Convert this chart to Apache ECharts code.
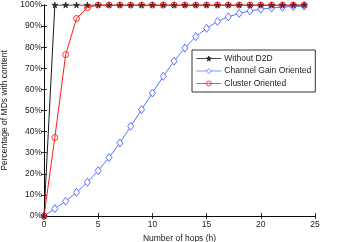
<!DOCTYPE html>
<html><head><meta charset="utf-8">
<script src="https://cdn.jsdelivr.net/npm/echarts@6/dist/echarts.min.js"></script>
<style>html,body{margin:0;padding:0;background:#fff}#c{width:348px;height:242px}</style>
</head><body><div id="c"></div>
<script>
const hops = [0,1,2,3,4,5,6,7,8,9,10,11,12,13,14,15,16,17,18,19,20,21,22,23,24];
const withoutD2D = [0,100,100,100,100,100,100,100,100,100,100,100,100,100,100,100,100,100,100,100,100,100,100,100,100];
const channelGain = [0,3.5,7,11.2,16,21.5,27.7,34.6,42.5,50.4,58.3,66.2,73.4,79.6,85,88.9,92.2,94.4,96,97.2,98,98.6,99,99.3,99.5];
const cluster = [0,37.2,76.5,93.6,98.8,100,100,100,100,100,100,100,100,100,100,100,100,100,100,100,100,100,100,100,100];
const seriesNames = ['Without D2D','Channel Gain Oriented','Cluster Oriented'];

const star = 'path://M50,0 L61,35 L98,35 L68,57 L79,91 L50,70 L21,91 L32,57 L2,35 L39,35 Z';
const font = 'Liberation Sans, Arial, sans-serif';
const chart = echarts.init(document.getElementById('c'));
function pairs(v){return hops.map((h,i)=>[h,v[i]]);}
const axisCommon = {axisLine:{show:true,lineStyle:{color:'#000',width:0.8}},
  axisTick:{show:true,inside:true,length:3,lineStyle:{color:'#000',width:0.8}},splitLine:{show:false}};
chart.setOption({
  animation:false,
  grid:{left:44,right:33,top:5,bottom:26,containLabel:false,outerBoundsMode:'none'},
  xAxis:[Object.assign({type:'value',min:0,max:25,interval:5,position:'bottom',
    axisLabel:{color:'#222',fontSize:8.5,fontFamily:font,margin:4},
    name:'Number of hops (h)',nameLocation:'middle',nameGap:16,
    nameTextStyle:{color:'#222',fontSize:8.5,fontFamily:font}},axisCommon),
   Object.assign({type:'value',min:0,max:25,interval:5,position:'top',axisLabel:{show:false}},axisCommon)],
  yAxis:[Object.assign({type:'value',min:0,max:100,interval:10,position:'left',
    axisLabel:{color:'#222',fontSize:8.5,fontFamily:font,margin:2,formatter:'{value}%'},
    name:'Percentage of MDs with content',nameLocation:'middle',nameGap:31,
    nameTextStyle:{color:'#222',fontSize:8.5,fontFamily:font}},axisCommon),
   Object.assign({type:'value',min:0,max:100,interval:10,position:'right',axisLabel:{show:false}},axisCommon)],
  legend:{orient:'vertical',left:192,top:50,width:121,padding:[4,4,4,4],itemGap:3.5,itemWidth:25,itemHeight:6,
    backgroundColor:'#fff',borderColor:'#000',borderWidth:0.8,
    lineStyle:{width:0.7},itemStyle:{borderWidth:0.7},
    textStyle:{fontSize:8.5,fontFamily:font,color:'#222',padding:[0,0,0,-2]},data:seriesNames},
  series:[
    {name:seriesNames[0],type:'line',data:pairs(withoutD2D),symbol:star,symbolSize:6,
     lineStyle:{color:'#000',width:0.9},itemStyle:{color:'#333',borderColor:'#000',borderWidth:0.5},z:3},
    {name:seriesNames[1],type:'line',data:pairs(channelGain),symbol:'diamond',symbolSize:[6,8],
     lineStyle:{color:'#4466ff',width:0.9},itemStyle:{color:'#fff',borderColor:'#3355ff',borderWidth:0.8},z:2},
    {name:seriesNames[2],type:'line',data:pairs(cluster),symbol:'circle',symbolSize:6,
     lineStyle:{color:'#ff0000',width:0.9},itemStyle:{color:'rgba(255,255,255,0)',borderColor:'#ff0000',borderWidth:0.8},z:4}
  ]
});
</script></body></html>
